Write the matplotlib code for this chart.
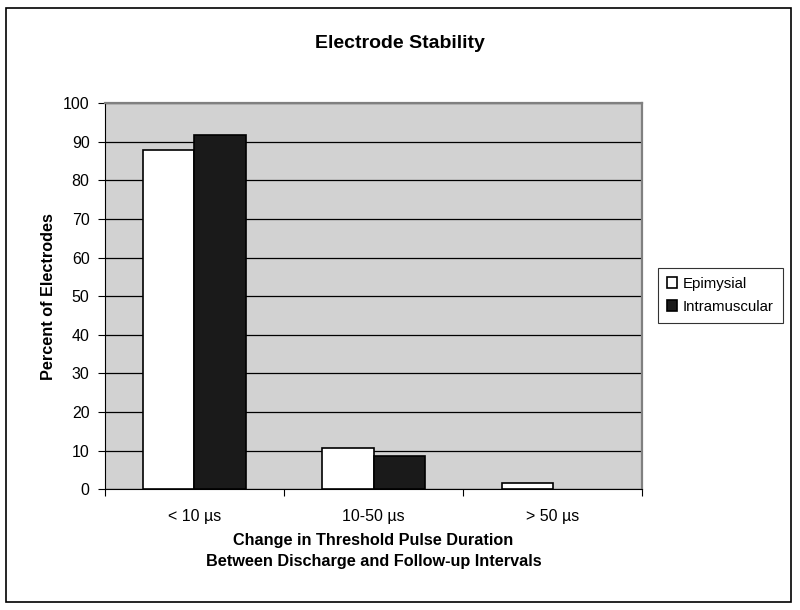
import matplotlib
matplotlib.use("Agg")
import matplotlib.pyplot as plt
from matplotlib.patches import Rectangle
import numpy as np

plt.rcParams['font.family'] = ['Liberation Sans', 'DejaVu Sans']

categories = ["< 10 µs", "10-50 µs", "> 50 µs"]
epimysial = [87.9, 10.7, 1.6]
intramuscular = [91.7, 8.5, 0.0]

fig = plt.figure(figsize=(8, 6.1), dpi=100)
ax = fig.add_axes([0.131, 0.198, 0.672, 0.633])

# outer chart border
fig.patches.append(Rectangle((0.007, 0.013), 0.982, 0.974, transform=fig.transFigure,
                             fill=False, edgecolor="black", linewidth=1.2))

x = np.arange(len(categories))
w = 1 / 3.5  # Excel gap width 150%
# no outline on empty bars
lw_epi = [1.2 if v > 0 else 0 for v in epimysial]
lw_int = [1.2 if v > 0 else 0 for v in intramuscular]
ax.bar(x - w / 2, epimysial, w, color="white", edgecolor="black", linewidth=lw_epi,
       label="Epimysial", zorder=3)
ax.bar(x + w / 2, intramuscular, w, color="#1a1a1a", edgecolor="black", linewidth=lw_int,
       label="Intramuscular", zorder=3)

ax.set_facecolor("#d2d2d2")
ax.set_xlim(-0.5, 2.5)
ax.set_ylim(0, 100)
ax.set_yticks(range(0, 101, 10))
ax.yaxis.grid(True, color="black", linewidth=0.9, zorder=1)
ax.set_axisbelow(True)

ax.set_xticks([-0.5, 0.5, 1.5, 2.5])
ax.set_xticklabels([])
ax.set_xticks(x, minor=True)
ax.set_xticklabels(categories, minor=True, fontsize=11.5)
ax.tick_params(axis="x", which="minor", length=0, pad=14)
ax.tick_params(axis="x", which="major", length=5, direction="out")
ax.tick_params(axis="y", length=5, direction="out", labelsize=11.5, pad=6)

for s in ["top", "right"]:
    ax.spines[s].set_color("#808080")
    ax.spines[s].set_linewidth(1.6)
ax.spines["left"].set_color("black")
ax.spines["bottom"].set_color("black")

fig.text(0.5, 0.929, "Electrode Stability", fontsize=14, fontweight="bold",
         ha="center", va="center")
fig.text(0.061, 0.514, "Percent of Electrodes", fontsize=11.7, fontweight="bold",
         ha="center", va="center", rotation=90)
fig.text(0.467, 0.097, "Change in Threshold Pulse Duration\nBetween Discharge and Follow-up Intervals",
         fontsize=11.7, fontweight="bold", ha="center", va="center", linespacing=1.45)

leg = fig.legend(loc="center left", bbox_to_anchor=(0.822, 0.516), frameon=True, fancybox=False,
                 edgecolor="black", fontsize=10.8, handlelength=0.7, handleheight=0.7,
                 handletextpad=0.4, borderpad=0.6, borderaxespad=0, labelspacing=0.6)
leg.get_frame().set_linewidth(0.8)

fig.savefig("out.png", dpi=100)
